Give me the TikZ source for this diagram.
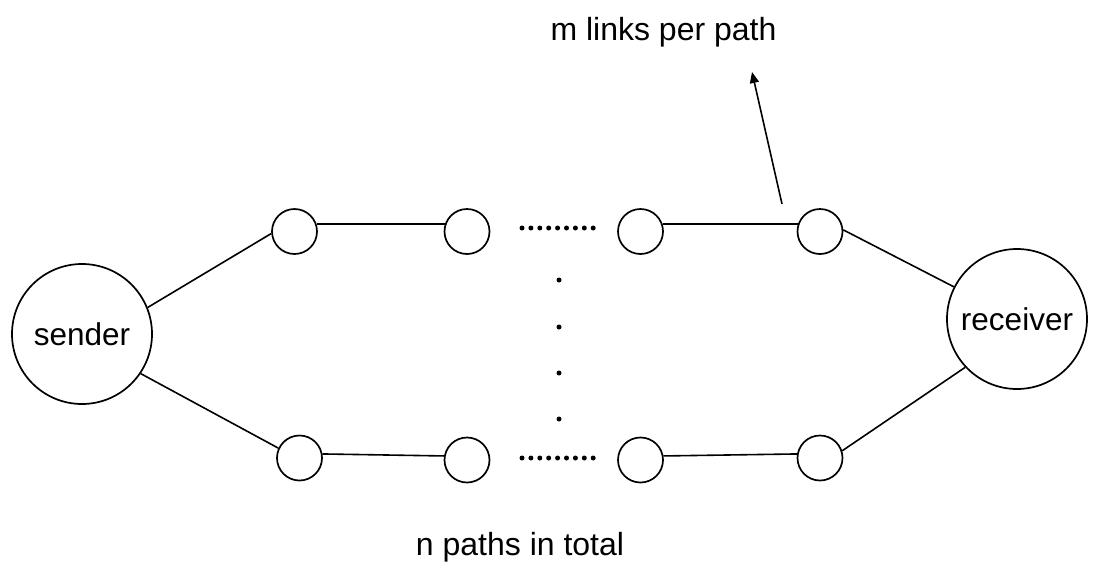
\documentclass[tikz,border=0pt]{standalone}
\usepackage{fontspec}
\setmainfont{Liberation Sans}
\usetikzlibrary{arrows.meta}
\begin{document}
\begin{tikzpicture}[x=1pt,y=-1pt,
  every node/.style={font=\fontsize{31.5}{36}\selectfont},
  endpoint/.style={circle, draw, line width=1.7pt, minimum size=140pt, inner sep=0pt},
  hop/.style={circle, draw, line width=1.7pt, minimum size=45pt, inner sep=0pt},
  link/.style={line width=1.6pt},
  dotmark/.style={circle, fill, minimum size=5pt, inner sep=0pt},
  caption/.style={font=\fontsize{32}{36}\selectfont, anchor=base}]
\useasboundingbox (0,0) rectangle (1093,571);

% end hosts
\node[endpoint] (s) at (82,334) {sender};
\node[endpoint] (r) at (1017,319) {receiver};

% first path
\node[hop] (t1) at (294.5,231.5) {};
\node[hop] (t2) at (467,231.5) {};
\node[hop] (t3) at (640.5,231.5) {};
\node[hop] (t4) at (820,231.5) {};

% last path
\node[hop] (b1) at (299.5,458) {};
\node[hop] (b2) at (467,460) {};
\node[hop] (b3) at (640.5,460) {};
\node[hop] (b4) at (820,458) {};

% links
\draw[link] (s.22) -- (t1.185);
\draw[link] (s.-34) -- (b1.155);
\draw[link] (t1.19) -- (t2.161);
\draw[link] (t3.19) -- (t4.161);
\draw[link] (b1.10) -- (b2.170);
\draw[link] (b3.10) -- (b4.170);
\draw[link] (t4.4) -- (r.153);
\draw[link] (b4.18) -- (r.223);

% omitted hops along each path
\foreach \i in {0,...,8} {
  \node[dotmark] (td\i) at (522+8.9*\i,228) {};
  \node[dotmark] (bd\i) at (522+8.9*\i,458) {};
}
% omitted paths
\foreach \y [count=\k] in {280,327,373,419} {
  \node[dotmark] (vd\k) at (559,\y) {};
}

% labels
\node[caption] (mlab) at (663.5,40) {m links per path};
\node[caption] (nlab) at (520,555) {n paths in total};
\coordinate (tail) at (782,204);
\coordinate (tip) at (752,72);
\draw[link, -{Triangle[length=11pt,width=9pt]}] (tail) -- (tip);
\end{tikzpicture}
\end{document}
